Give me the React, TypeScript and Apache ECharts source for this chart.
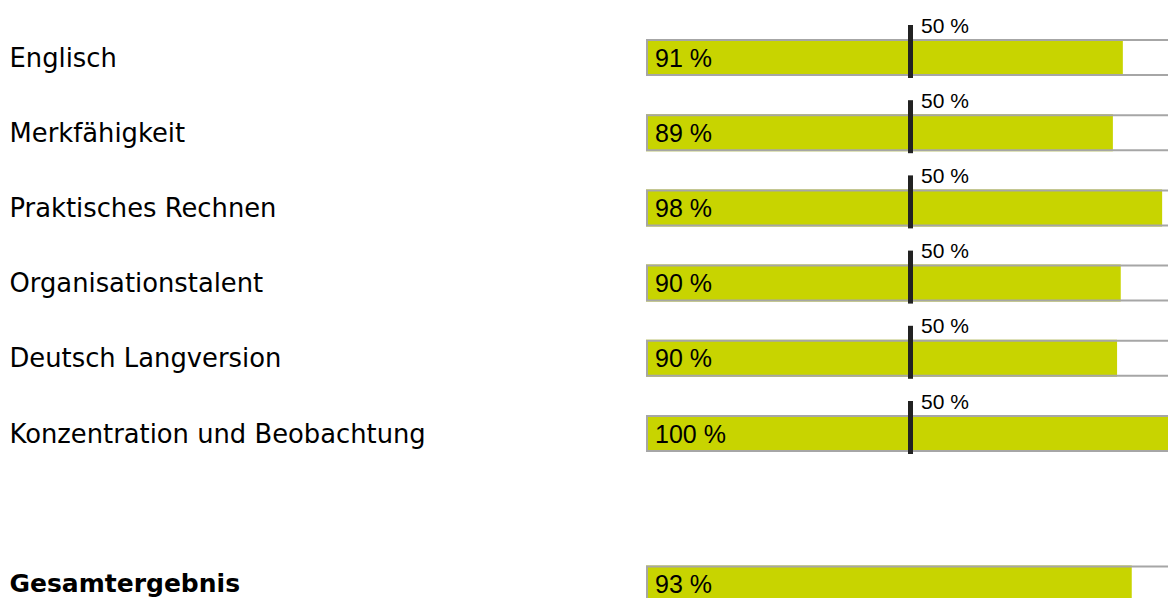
import React, { useEffect, useRef } from "react";
import * as echarts from "echarts";

const categories = [
  "Englisch",
  "Merkfähigkeit",
  "Praktisches Rechnen",
  "Organisationstalent",
  "Deutsch Langversion",
  "Konzentration und Beobachtung",
  "",
  "Gesamtergebnis",
];
// bar lengths (percent); "-" = empty spacer row
const barValues: (number | string)[] = [91.0, 89.1, 98.5, 90.6, 89.9, 100, "-", 92.7];
// printed percentages
const labelValues: (number | string)[] = [91, 89, 98, 90, 90, 100, "", 93];
// reference marker (50 %) shown on the single tests only
const markerValue = 50;
const markerRows = [0, 1, 2, 3, 4, 5];
const trackValues: (number | string)[] = [100, 100, 100, 100, 100, 100, "-", 100];

export default function App() {
  const ref = useRef<HTMLDivElement>(null);
  useEffect(() => {
    if (!ref.current) return;
    const chart = echarts.init(ref.current, undefined, { renderer: "svg" });
    const rowH = 75.2;
    const firstCenter = 57.5;
    chart.setOption({
      animation: false,
      grid: {
        left: 646,
        width: 524,
        top: firstCenter - rowH / 2,
        height: rowH * categories.length,
        containLabel: false,
        outerBoundsMode: "none",
      },
      xAxis: {
        type: "value",
        min: 0,
        max: 100,
        show: false,
      },
      yAxis: {
        type: "category",
        inverse: true,
        data: categories,
        axisLine: { show: false },
        axisTick: { show: false },
        splitLine: { show: false },
        axisLabel: {
          align: "left",
          margin: 646 - 9.5,
          color: "#000",
          fontSize: 25.8,
          fontFamily: "DejaVu Sans",
          formatter: (v: string) =>
            v === "Gesamtergebnis" ? "{b|" + v + "}" : v ? "{n|" + v + "}" : "",
          rich: {
            n: {
              fontWeight: "normal",
              fontSize: 25.8,
              fontFamily: "DejaVu Sans",
              color: "#000",
            },
            b: {
              fontWeight: "bold",
              fontSize: 25,
              fontFamily: "DejaVu Sans",
              color: "#000",
            },
          },
        },
      },
      series: [
        {
          type: "bar",
          data: barValues,
          barWidth: 37,
          barGap: "-100%",
          z: 2,
          itemStyle: { color: "#c8d400" },
          label: {
            show: true,
            position: "insideLeft",
            distance: 9,
            color: "#000",
            fontSize: 25,
            fontFamily: "Liberation Sans",
            formatter: (p: any) => labelValues[p.dataIndex] + " %",
          },
        },
        {
          type: "bar",
          data: trackValues,
          barWidth: 37,
          barGap: "-100%",
          z: 3,
          silent: true,
          itemStyle: {
            color: "rgba(0,0,0,0)",
            borderColor: "#a6a6a6",
            borderWidth: 2,
          },
        },
        {
          type: "scatter",
          z: 4,
          data: markerRows.map((r) => [markerValue, r]),
          symbol: "rect",
          symbolSize: [5, 53],
          symbolOffset: [2.5, -6],
          itemStyle: { color: "#222222", opacity: 1 },
          label: {
            show: true,
            position: [13, 0],
            align: "left",
            verticalAlign: "middle",
            color: "#000",
            fontSize: 21,
            fontFamily: "Liberation Sans",
            formatter: () => markerValue + " %",
          },
        },
      ],
    });
    return () => chart.dispose();
  }, []);
  return (
    <div
      ref={ref}
      style={{ position: "fixed", left: 0, top: 0, width: 1168, height: 598, background: "#fff" }}
    />
  );
}
